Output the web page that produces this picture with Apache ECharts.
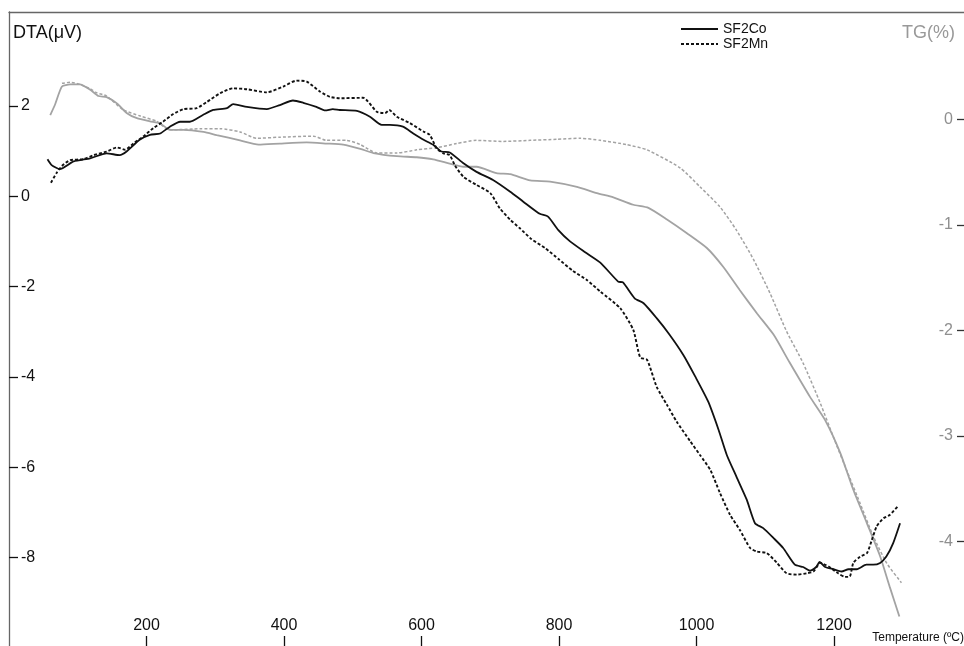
<!DOCTYPE html>
<html>
<head>
<meta charset="utf-8">
<script src="https://cdn.jsdelivr.net/npm/echarts@6/dist/echarts.min.js"></script>
<style>html,body{margin:0;padding:0;background:#fff}#c{width:964px;height:646px}</style>
</head>
<body>
<div id="c"></div>
<script>
// Temperature ticks and axis values
const xTicks = [200, 400, 600, 800, 1000, 1200];
const dtaTicks = [-8, -6, -4, -2, 0, 2];
const tgTicks = [-4, -3, -2, -1, 0];

// DTA (µV) vs temperature (°C)
const sf2coDTA = [[56,0.82],[62,0.69],[74,0.60],[94,0.77],[118,0.84],[142,0.95],[161,0.91],[171,0.99],[190,1.25],[205,1.36],[220,1.39],[234,1.54],[249,1.65],[263,1.65],[282,1.80],[297,1.91],[317,1.95],[326,2.04],[346,1.98],[375,1.93],[394,2.02],[413,2.12],[428,2.07],[447,1.98],[460,1.90],[471,1.93],[481,1.91],[506,1.89],[525,1.76],[542,1.58],[554,1.58],[573,1.54],[588,1.39],[603,1.25],[617,1.14],[629,0.99],[641,0.97],[661,0.73],[680,0.54],[704,0.36],[729,0.10],[748,-0.12],[772,-0.39],[784,-0.45],[799,-0.75],[816,-1.0],[838,-1.24],[860,-1.47],[886,-1.89],[893,-1.91],[910,-2.26],[923,-2.37],[942,-2.70],[960,-3.05],[981,-3.52],[998,-3.99],[1017,-4.55],[1032,-5.17],[1044,-5.73],[1058,-6.21],[1073,-6.72],[1085,-7.24],[1097,-7.35],[1112,-7.57],[1126,-7.79],[1143,-8.16],[1155,-8.21],[1165,-8.29],[1174,-8.21],[1179,-8.10],[1187,-8.21],[1199,-8.26],[1211,-8.31],[1221,-8.26],[1233,-8.26],[1247,-8.16],[1257,-8.16],[1267,-8.12],[1276,-7.98],[1286,-7.68],[1296,-7.24]];
const sf2mnDTA = [[61,0.30],[69,0.51],[77,0.67],[89,0.80],[108,0.82],[123,0.91],[142,0.99],[157,1.08],[169,1.03],[181,1.17],[195,1.32],[210,1.51],[224,1.65],[239,1.82],[254,1.93],[273,1.95],[288,2.09],[307,2.28],[326,2.39],[346,2.37],[375,2.30],[399,2.43],[418,2.56],[433,2.54],[452,2.32],[467,2.20],[481,2.17],[515,2.18],[535,1.87],[547,1.84],[553,1.91],[564,1.76],[583,1.62],[603,1.43],[612,1.36],[622,1.06],[632,0.95],[641,0.91],[649,0.67],[661,0.43],[680,0.25],[700,0.07],[714,-0.27],[729,-0.52],[743,-0.71],[760,-0.95],[780,-1.15],[800,-1.4],[820,-1.65],[840,-1.85],[860,-2.11],[889,-2.48],[908,-2.96],[918,-3.57],[928,-3.62],[942,-4.22],[957,-4.62],[971,-4.99],[991,-5.43],[1005,-5.73],[1020,-6.06],[1034,-6.57],[1049,-7.06],[1063,-7.39],[1078,-7.79],[1088,-7.87],[1102,-7.90],[1117,-8.12],[1131,-8.35],[1146,-8.38],[1160,-8.35],[1170,-8.31],[1180,-8.12],[1192,-8.20],[1206,-8.35],[1216,-8.43],[1223,-8.42],[1228,-8.12],[1238,-7.98],[1248,-7.90],[1255,-7.61],[1262,-7.31],[1272,-7.13],[1281,-7.06],[1293,-6.86]];

// TG (%) vs temperature (°C)
const sf2coTG = [[60,0.04],[67,0.14],[77,0.31],[89,0.33],[103,0.33],[118,0.28],[130,0.22],[142,0.21],[157,0.15],[171,0.06],[186,0.01],[205,-0.02],[220,-0.04],[234,-0.10],[254,-0.10],[283,-0.12],[302,-0.15],[336,-0.20],[363,-0.24],[394,-0.23],[433,-0.22],[462,-0.23],[486,-0.24],[511,-0.28],[530,-0.32],[564,-0.35],[593,-0.36],[617,-0.38],[641,-0.42],[661,-0.45],[680,-0.45],[709,-0.51],[729,-0.52],[758,-0.58],[787,-0.59],[826,-0.64],[855,-0.70],[879,-0.74],[908,-0.81],[930,-0.84],[957,-0.95],[986,-1.08],[1015,-1.22],[1039,-1.40],[1063,-1.62],[1088,-1.84],[1112,-2.04],[1135,-2.30],[1165,-2.63],[1187,-2.85],[1209,-3.16],[1228,-3.51],[1248,-3.83],[1267,-4.14],[1281,-4.43],[1295,-4.71]];
const sf2mnTG = [[77,0.34],[89,0.35],[103,0.33],[118,0.29],[128,0.25],[142,0.22],[166,0.09],[191,0.03],[215,-0.02],[229,-0.09],[239,-0.10],[278,-0.09],[307,-0.09],[336,-0.12],[360,-0.18],[394,-0.17],[443,-0.16],[462,-0.20],[491,-0.20],[511,-0.24],[535,-0.32],[564,-0.32],[593,-0.29],[622,-0.27],[651,-0.23],[680,-0.20],[719,-0.21],[758,-0.20],[797,-0.19],[831,-0.18],[860,-0.20],[898,-0.24],[928,-0.29],[976,-0.46],[1005,-0.64],[1034,-0.83],[1058,-1.05],[1083,-1.33],[1107,-1.65],[1131,-2.01],[1155,-2.31],[1180,-2.69],[1199,-3.01],[1218,-3.32],[1238,-3.64],[1257,-3.95],[1277,-4.21],[1298,-4.39]];

const FONT = 'Liberation Sans, Arial, Helvetica, sans-serif';
const BLACK = '#111111';
const GRAY = '#a3a3a3';
const plain = v => String(v);

const chart = echarts.init(document.getElementById('c'), null, {renderer: 'canvas'});
chart.setOption({
  animation: false,
  backgroundColor: '#ffffff',
  textStyle: {fontFamily: FONT},
  title: [
    {text: 'DTA(μV)', left: 13, top: 24, padding: 0, textStyle: {fontFamily: FONT, fontSize: 18, fontWeight: 'normal', color: BLACK}},
    {text: 'TG(%)', right: 9, top: 24, padding: 0, textStyle: {fontFamily: FONT, fontSize: 18, fontWeight: 'normal', color: '#999999'}},
    {text: 'Temperature (ºC)', right: 0, top: 632, padding: 0, textStyle: {fontFamily: FONT, fontSize: 12, fontWeight: 'normal', color: BLACK}}
  ],
  legend: {
    data: ['SF2Co', 'SF2Mn'],
    orient: 'vertical',
    left: 680,
    top: 22,
    itemWidth: 37,
    itemHeight: 14,
    itemGap: 1,
    padding: 0,
    itemStyle: {opacity: 0},
    textStyle: {fontFamily: FONT, fontSize: 14, color: BLACK}
  },
  grid: {left: 9, right: 0, top: 12, bottom: 0, containLabel: false},
  xAxis: [
    {
      type: 'value', min: 0, max: 1389, position: 'bottom',
      axisLine: {show: false, onZero: false},
      axisTick: {show: true, inside: true, length: 10, customValues: xTicks, lineStyle: {color: BLACK, width: 1.3}},
      axisLabel: {show: true, inside: true, margin: 12, customValues: xTicks, formatter: plain, fontSize: 16, color: BLACK, fontFamily: FONT},
      splitLine: {show: false}
    },
    {
      type: 'value', min: 0, max: 1389, position: 'top',
      axisLine: {show: true, onZero: false, lineStyle: {color: '#666666', width: 1.3}},
      axisTick: {show: false}, axisLabel: {show: false}, splitLine: {show: false}
    }
  ],
  yAxis: [
    {
      type: 'value', min: -9.96, max: 4.08, position: 'left',
      axisLine: {show: true, onZero: false, lineStyle: {color: '#666666', width: 1.3}},
      axisTick: {show: true, inside: true, length: 9, customValues: dtaTicks, lineStyle: {color: BLACK, width: 1.3}},
      axisLabel: {show: true, inside: true, margin: 12, customValues: dtaTicks, formatter: plain, fontSize: 16, color: BLACK, fontFamily: FONT},
      splitLine: {show: false}
    },
    {
      type: 'value', min: -4.99, max: 1.016, position: 'right',
      axisLine: {show: false, onZero: false},
      axisTick: {show: true, inside: true, length: 7, customValues: tgTicks, lineStyle: {color: '#333333', width: 1.3}},
      axisLabel: {show: true, inside: true, margin: 11, customValues: tgTicks, formatter: plain, fontSize: 16, color: '#8f8f8f', fontFamily: FONT},
      splitLine: {show: false}
    }
  ],
  series: [
    {name: 'SF2Co TG', type: 'line', xAxisIndex: 0, yAxisIndex: 1, data: sf2coTG, symbol: 'none', smooth: 0.2, z: 1,
      lineStyle: {color: GRAY, width: 1.8, type: 'solid'}},
    {name: 'SF2Mn TG', type: 'line', xAxisIndex: 0, yAxisIndex: 1, data: sf2mnTG, symbol: 'none', smooth: 0.2, z: 1,
      lineStyle: {color: GRAY, width: 1.5, type: [3, 2]}},
    {name: 'SF2Co', type: 'line', xAxisIndex: 0, yAxisIndex: 0, data: sf2coDTA, symbol: 'none', smooth: 0.2, z: 3,
      itemStyle: {color: BLACK}, lineStyle: {color: BLACK, width: 1.8, type: 'solid'}},
    {name: 'SF2Mn', type: 'line', xAxisIndex: 0, yAxisIndex: 0, data: sf2mnDTA, symbol: 'none', smooth: 0.2, z: 3,
      itemStyle: {color: BLACK}, lineStyle: {color: BLACK, width: 1.9, type: [3, 2]}}
  ]
});
</script>
</body>
</html>
